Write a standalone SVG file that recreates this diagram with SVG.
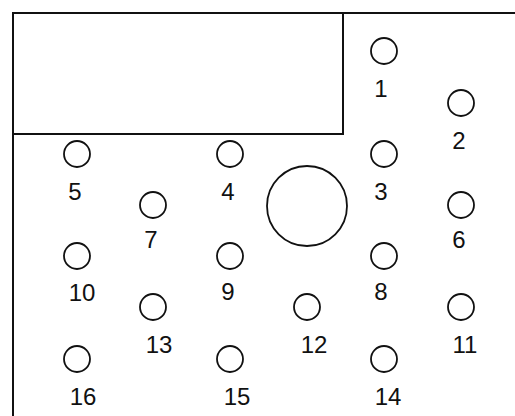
<svg xmlns="http://www.w3.org/2000/svg" width="515" height="416" viewBox="0 0 515 416">
<style>
.ln{fill:none;stroke:#111;stroke-width:2}
.c{fill:none;stroke:#111;stroke-width:1.8}
.t{font-family:"Liberation Sans",Arial,sans-serif;font-size:24px;fill:#111;text-anchor:middle}
</style>
<rect width="515" height="416" fill="#fff"/>
<g id="frame">
<path class="ln" d="M13,416 V13 H515"/>
<path class="ln" d="M13,134 H343 V13"/>
</g>
<g id="big"><circle class="c" cx="307" cy="206" r="40"/></g>
<g id="n1"><circle class="c" cx="384" cy="51" r="13"/><text class="t" x="381" y="97">1</text></g>
<g id="n2"><circle class="c" cx="461" cy="103" r="13"/><text class="t" x="459" y="149">2</text></g>
<g id="n3"><circle class="c" cx="384" cy="154" r="13"/><text class="t" x="381" y="200">3</text></g>
<g id="n4"><circle class="c" cx="230" cy="154" r="13"/><text class="t" x="228" y="200">4</text></g>
<g id="n5"><circle class="c" cx="77" cy="154" r="13"/><text class="t" x="75" y="200">5</text></g>
<g id="n6"><circle class="c" cx="461" cy="205" r="13"/><text class="t" x="459" y="248">6</text></g>
<g id="n7"><circle class="c" cx="153" cy="205" r="13"/><text class="t" x="151" y="248">7</text></g>
<g id="n8"><circle class="c" cx="384" cy="256" r="13"/><text class="t" x="381" y="300">8</text></g>
<g id="n9"><circle class="c" cx="230" cy="256" r="13"/><text class="t" x="228" y="300">9</text></g>
<g id="n10"><circle class="c" cx="77" cy="256" r="13"/><text class="t" x="82" y="301">10</text></g>
<g id="n11"><circle class="c" cx="461" cy="307" r="13"/><text class="t" x="465" y="353">11</text></g>
<g id="n12"><circle class="c" cx="307" cy="307" r="13"/><text class="t" x="314" y="353">12</text></g>
<g id="n13"><circle class="c" cx="153" cy="307" r="13"/><text class="t" x="159" y="353">13</text></g>
<g id="n14"><circle class="c" cx="384" cy="359" r="13"/><text class="t" x="388" y="405">14</text></g>
<g id="n15"><circle class="c" cx="230" cy="359" r="13"/><text class="t" x="237" y="405">15</text></g>
<g id="n16"><circle class="c" cx="77" cy="359" r="13"/><text class="t" x="83" y="405">16</text></g>
</svg>
